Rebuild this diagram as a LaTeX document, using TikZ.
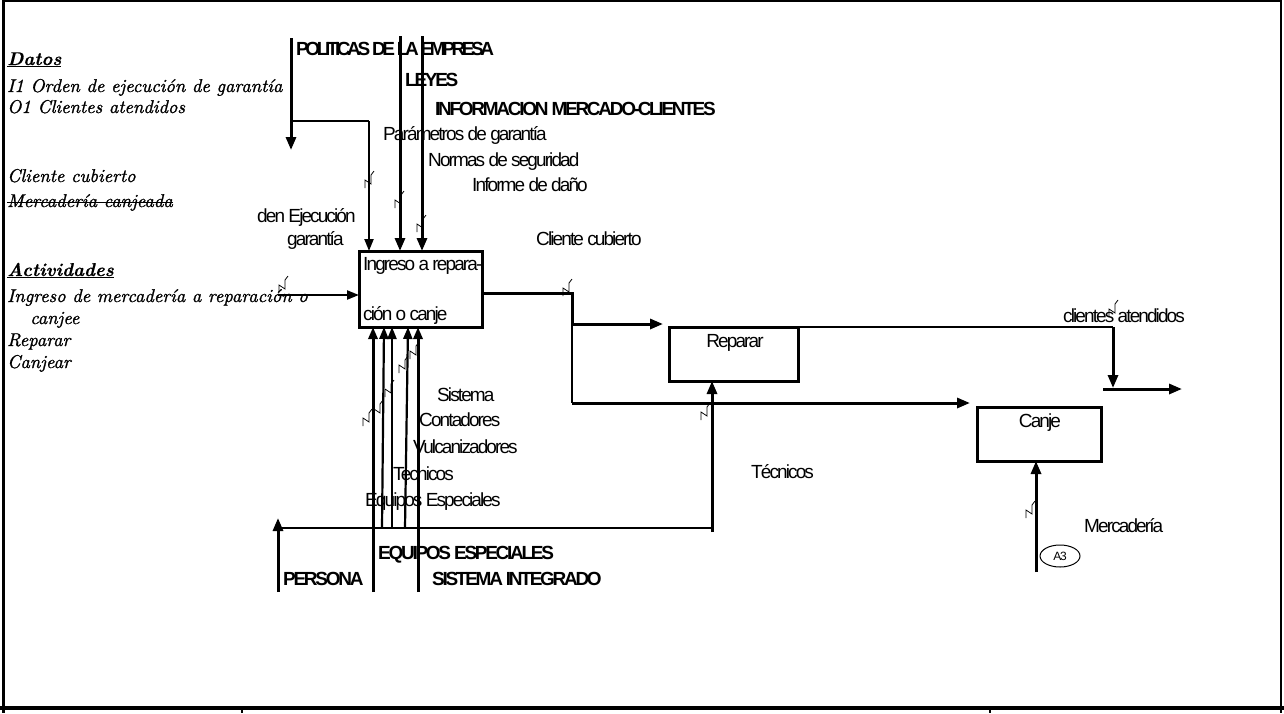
\documentclass[tikz,border=0pt]{standalone}
\usepackage{fontspec}
\newfontfamily\lbl[LetterSpace=-10]{Liberation Sans}
\newfontfamily\lblb[LetterSpace=-12]{Liberation Sans}
\newfontfamily\hand[FakeBold=1.2]{lmroman10-italic.otf}
\newfontfamily\handb[FakeBold=0.6]{lmroman10-bolditalic.otf}
\usetikzlibrary{arrows.meta,shapes.geometric}
\tikzset{
 lab/.style={font=\lbl\fontsize{19}{21}\selectfont, inner sep=0pt, anchor=base west},
 blab/.style={font=\lblb\bfseries\fontsize{19}{21}\selectfont, inner sep=0pt, anchor=base west},
 hw/.style={font=\hand\fontsize{18.5}{20}\selectfont, inner sep=0pt, anchor=base west},
 hwb/.style={font=\handb\fontsize{18.5}{20}\selectfont, inner sep=0pt, anchor=base west},
 box/.style={draw, line width=3pt, inner sep=0pt, outer sep=0pt, anchor=north west},
 thk/.style={line width=3pt},
 med/.style={line width=2.2pt},
 thn/.style={line width=1.2pt},
 arr/.style={-{Triangle[length=13pt,width=10pt]}},
 arrs/.style={-{Triangle[length=12pt,width=9pt]}},
 sq/.pic={\draw[line width=0.8pt] (-4,8) -- (-4,0) -- (2,4) -- (2,-5) -- (5,-9);}
}
\begin{document}
\begin{tikzpicture}[x=1pt,y=-1pt]
\useasboundingbox (0,0) rectangle (1284,713);
% frame
\draw[line width=2pt] (2,1) -- (1282,1);
\draw[line width=3pt] (3,0) -- (3,713);
\draw[line width=2pt] (1281,0) -- (1281,713);
\draw[line width=4pt] (0,708) -- (1284,708);
\draw[line width=1.5pt] (242,708) -- (242,713);
\draw[line width=1.5pt] (990,708) -- (990,713);

% left handwritten notes
\node[hwb] (dat) at (7,65) {\underline{Datos}};
\node[hw] (i1) at (7,92) {I1 Orden de ejecución de garantía};
\node[hw] (o1) at (7,113) {O1 Clientes atendidos};
\node[hw] (cc) at (7,182) {Cliente cubierto};
\node[hw] (mc) at (7,207) {Mercadería canjeada};
\draw[line width=1pt] ([yshift=5pt]mc.base west) -- ([yshift=5pt]mc.base east);
\node[hwb] (act) at (7,276) {\underline{Actividades}};
\node[hw] (ing) at (7,302) {Ingreso de mercadería a reparación o};
\node[hw] (cje) at (30,324) {canjee};
\node[hw] (rep) at (7,346) {Reparar};
\node[hw] (cjr) at (7,368) {Canjear};

% boxes
\node[box, minimum width=123pt, minimum height=76pt] (A) at (359,251) {};
\node[box, minimum width=129pt, minimum height=54pt] (R) at (669,327) {};
\node[box, minimum width=124pt, minimum height=54pt] (C) at (977,407) {};
\node[lab] (A1) at (363,270) {Ingreso a repara-};
\node[lab] (A2) at (363,320) {ción o canje};
\node[lab,anchor=base] (Rt) at (735,347) {Reparar};
\node[lab,anchor=base] (Ct) at (1040,427) {Canje};

% labels
\node[blab,font=\lblb\bfseries\fontsize{19}{21}\selectfont\addfontfeature{LetterSpace=-18}] (pol) at (296,55) {POLITICAS DE LA EMPRESA};
\node[blab] (ley) at (405,86) {LEYES};
\node[blab] (inf) at (435,115) {INFORMACION MERCADO-CLIENTES};
\node[lab] (par) at (383,140) {Parámetros de garantía};
\node[lab] (nor) at (428,166) {Normas de seguridad};
\node[lab] (imd) at (472,191) {Informe de daño};
\node[lab] (oej) at (257,222) {den Ejecución};
\node[lab] (gar) at (287,245) {garantía};
\node[lab] (ccu) at (536,245) {Cliente cubierto};
\node[lab] (cat) at (1063,322) {clientes atendidos};
\node[lab] (tec) at (751,478) {Técnicos};
\node[lab] (mer) at (1084,532) {Mercadería};
\node[lab] (sis) at (437,401) {Sistema};
\node[lab] (con) at (419,426) {Contadores};
\node[lab] (vul) at (413,453) {Vulcanizadores};
\node[lab] (tcb) at (393,480) {Tecnicos};
\node[lab] (eqe) at (365,506) {Equipos Especiales};
\node[blab] (EQ) at (378,559) {EQUIPOS ESPECIALES};
\node[blab] (PE) at (283,585) {PERSONA};
\node[blab] (SI) at (432,585) {SISTEMA INTEGRADO};
\node[draw, ellipse, line width=1pt, minimum width=40pt, minimum height=22pt, inner sep=0pt, font=\lbl\fontsize{12}{13}\selectfont] (a3) at (1060,556) {A3};

% top controls
\coordinate (pA) at (291,38); \coordinate (pB) at (291,150);
\draw[thk,arr] (pA) -- (pB);
\coordinate (bA) at (291,121); \coordinate (bB) at (369,121);
\draw[thn] (bA) -- (bB);
\draw[med,arrs] (bB) -- (A.north -| bB);
\coordinate (lA) at (400,36); \draw[thk,arr] (lA) -- (A.north -| lA);
\coordinate (iA) at (422,36); \draw[thk,arr] (iA) -- (A.north -| iA);

% input
\coordinate (inA) at (278,295); \draw[med,arrs] (inA) -- (A.west |- inA);

% output of A
\coordinate (o1) at (572,293); \coordinate (o2) at (572,324); \coordinate (o3) at (572,403);
\draw[thk] (A.east |- o1) -- (o1) -- (o2);
\draw[thk,arr,shorten >=6pt] (o2) -- (R.west |- o2);
\draw[thn] (o2) -- (o3);
\draw[thk,arr,shorten >=7pt] (o3) -- (C.west |- o3);

% output of Reparar
\coordinate (r1) at (1113,327); \coordinate (r2) at (1113,388);
\draw[thn] (R.north east) -- (r1);
\draw[thk,arr] (r1) -- (r2);
\coordinate (r3) at (1103,389); \coordinate (r4) at (1182,389);
\draw[thk,arr] (r3) -- (r4);

% mechanisms
\coordinate (t1) at (712,532); \draw[thk,arr] (t1) -- (R.south -| t1);
\coordinate (pl) at (278,528); \draw[thn] (pl) -- (t1 |- pl);
\coordinate (pe0) at (278,592); \coordinate (pe1) at (278,518); \draw[thk,arr] (pe0) -- (pe1);
\coordinate (u1) at (373,592); \draw[thk,arrs] (u1) -- (A.south -| u1);
\coordinate (u2) at (382,528); \coordinate (u2t) at (384,0); \draw[med,arrs] (u2) -- (A.south -| u2t);
\coordinate (u3) at (392,528); \draw[med,arrs] (u3) -- (A.south -| u3);
\coordinate (u4) at (405,528); \coordinate (u4t) at (408,0); \draw[med,arrs] (u4) -- (A.south -| u4t);
\coordinate (u5) at (418,592); \draw[thk,arrs] (u5) -- (A.south -| u5);
\coordinate (m1) at (1036,572); \draw[thk,arr] (m1) -- (C.south -| m1);

% squiggles
\foreach \p in {(369,180),(399,200),(421,224),(283,285),(567,288),(1113,309),(705,412),(1030,510),(367,418),(378,409),(389,389),(403,365),(414,351)}
  \pic at \p {sq};
\end{tikzpicture}
\end{document}
